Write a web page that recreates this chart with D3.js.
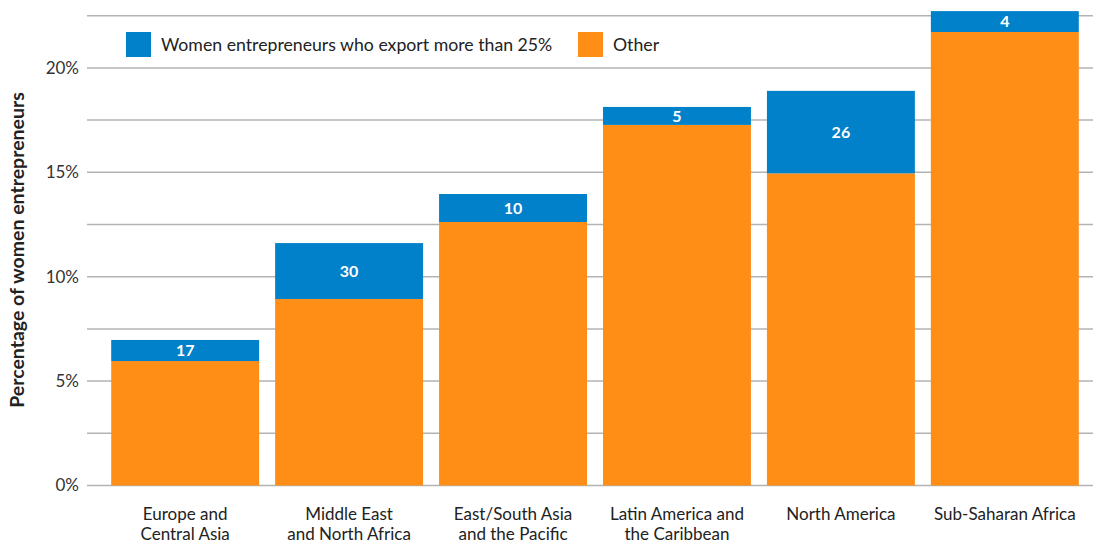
<!DOCTYPE html>
<html>
<head>
<meta charset="utf-8">
<script src="https://cdn.jsdelivr.net/npm/d3@7"></script>
<style>
  html, body { margin: 0; padding: 0; background: #fff; }
  svg { display: block; font-family: Lato, "Open Sans", sans-serif; }
</style>
</head>
<body>
<svg id="chart" width="1093" height="544"></svg>
<script>
// Regions (two-line category labels)
const categories = [
  ["Europe and", "Central Asia"],
  ["Middle East", "and North Africa"],
  ["East/South Asia", "and the Pacific"],
  ["Latin America and", "the Caribbean"],
  ["North America"],
  ["Sub-Saharan Africa"]
];
// Share of women entrepreneurs (%), split into two stacked series
const otherValues  = [5.96, 8.93, 12.62, 17.27, 14.95, 21.72];
const exportValues = [1.01, 2.68, 1.34, 0.86, 3.95, 1.00];
// Numbers printed on the blue segments
const exportLabels = [17, 30, 10, 5, 26, 4];
const yTicks = [0, 5, 10, 15, 20];
const gridTicks = [0, 2.5, 5, 7.5, 10, 12.5, 15, 17.5, 20, 22.5];
const seriesNames = ["Women entrepreneurs who export more than 25%", "Other"];

const BLUE = "#0081C9", ORANGE = "#FF8E17";
const FONT = "Lato, 'Open Sans', sans-serif";

const svg = d3.select("#chart");
const keys = categories.map(c => c.join(" "));

const x = d3.scaleBand()
  .domain(keys)
  .range([103, 1087])
  .paddingInner(16 / 164)
  .paddingOuter(0.05);

const y = d3.scaleLinear().domain([0, 22.5]).range([485.5, 15.7]);

// Gridlines
svg.append("g")
  .selectAll("line")
  .data(gridTicks)
  .join("line")
  .attr("x1", 87).attr("x2", 1093)
  .attr("y1", d => y(d)).attr("y2", d => y(d))
  .attr("stroke", "#b3b3b3").attr("stroke-width", 1.5);

// Y axis labels
const yAxis = d3.axisLeft(y).tickValues(yTicks).tickSize(0).tickPadding(0)
  .tickFormat(d => d + "%");
svg.append("g")
  .attr("transform", "translate(79,0)")
  .call(yAxis)
  .call(g => g.select(".domain").remove())
  .call(g => g.selectAll("text")
    .attr("font-size", 17).attr("fill", "#333")
    .style("font-family", FONT));

// Y axis title
svg.append("text")
  .attr("transform", "translate(24,250) rotate(-90)")
  .attr("text-anchor", "middle")
  .attr("font-size", 19.5).attr("font-weight", 700).attr("fill", "#222")
  .text("Percentage of women entrepreneurs");

const rows = keys.map((k, i) => ({ key: k, other: otherValues[i], exp: exportValues[i], label: exportLabels[i] }));
const stacked = d3.stack().keys(["other", "exp"])(rows);
const colors = { other: ORANGE, exp: BLUE };

const bars = svg.append("g");
stacked.forEach(s => {
  bars.append("g").attr("fill", colors[s.key])
    .selectAll("rect")
    .data(s)
    .join("rect")
    .attr("x", d => x(d.data.key))
    .attr("width", x.bandwidth())
    .attr("y", d => y(d[1]))
    .attr("height", d => y(d[0]) - y(d[1]));
});

// Value labels inside the blue segments
const expLayer = stacked[1];
svg.append("g")
  .selectAll("text")
  .data(expLayer)
  .join("text")
  .attr("x", d => x(d.data.key) + x.bandwidth() / 2)
  .attr("y", d => (y(d[0]) + y(d[1])) / 2)
  .attr("dy", "0.36em")
  .attr("text-anchor", "middle")
  .attr("font-size", 16).attr("font-weight", 700).attr("fill", "#fff")
  .text(d => d.data.label);

// Category labels
const catG = svg.append("g");
categories.forEach((lines, i) => {
  const t = catG.append("text")
    .attr("x", x(keys[i]) + x.bandwidth() / 2)
    .attr("text-anchor", "middle")
    .attr("font-size", 17).attr("fill", "#222");
  lines.forEach((ln, j) => {
    t.append("tspan").attr("x", x(keys[i]) + x.bandwidth() / 2)
      .attr("y", 519.5 + j * 20.5).text(ln);
  });
});

// Legend
const legend = svg.append("g");
const legendItems = [
  { name: seriesNames[0], color: BLUE, x: 126 },
  { name: seriesNames[1], color: ORANGE, x: 578 }
];
legendItems.forEach(it => {
  legend.append("rect").attr("x", it.x).attr("y", 32).attr("width", 25).attr("height", 25).attr("fill", it.color);
  legend.append("text").attr("x", it.x + 35).attr("y", 50.5)
    .attr("font-size", 17.7).attr("fill", "#222").text(it.name);
});
</script>
</body>
</html>
